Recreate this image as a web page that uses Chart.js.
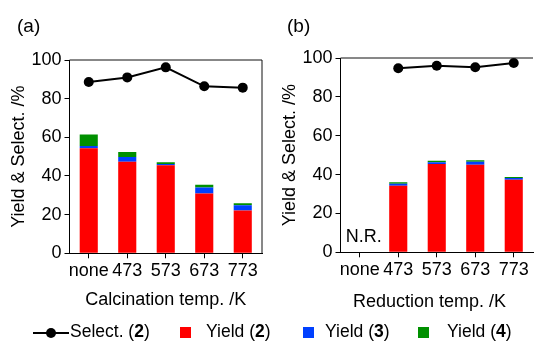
<!DOCTYPE html>
<html>
<head>
<meta charset="utf-8">
<script src="https://cdn.jsdelivr.net/npm/chart.js@4/dist/chart.umd.min.js"></script>
<style>
  html, body { margin: 0; padding: 0; background: #fff; }
  body { width: 534px; height: 341px; position: relative; overflow: hidden; font-family: 'Liberation Sans', Arial, sans-serif; color: #000; }
  canvas { position: absolute; top: 0; }
  .lbl { position: absolute; font-size: 19px; line-height: 19px; white-space: nowrap; }
  .leg { position: absolute; font-size: 17.5px; line-height: 17.5px; white-space: nowrap; top: 322.5px; }
  .sq { position: absolute; width: 11px; height: 11px; top: 327px; }
</style>
</head>
<body>
<canvas id="ca" width="267" height="341" style="left:0px"></canvas>
<canvas id="cb" width="267" height="341" style="left:271px"></canvas>
<div class="lbl" style="left:17px; top:16px;">(a)</div>
<div class="lbl" style="left:287px; top:16px;">(b)</div>
<div style="position:absolute; left:353px; top:291.5px; font-size:18px; line-height:18px; white-space:nowrap;">Reduction temp. /K</div>

<div style="position:absolute; left:33px; top:332px; width:36px; height:2px; background:#000;"></div>
<div style="position:absolute; left:45.5px; top:328px; width:10px; height:10px; border-radius:50%; background:#000;"></div>
<div class="leg" style="left:70px;">Select. (<b>2</b>)</div>
<div class="sq" style="left:180px; background:#ff0000;"></div>
<div class="leg" style="left:206px;">Yield (<b>2</b>)</div>
<div class="sq" style="left:303px; background:#0040ff;"></div>
<div class="leg" style="left:325px;">Yield (<b>3</b>)</div>
<div class="sq" style="left:418px; background:#009000;"></div>
<div class="leg" style="left:447px;">Yield (<b>4</b>)</div>

<script>
// ---- data ----
const categories = ['none', '473', '573', '673', '773'];

// (a) calcination temperature
const calcSelect2 = [88.6, 91.0, 96.2, 86.4, 85.7];
const calcYield2  = [54.3, 47.4, 45.5, 30.9, 22.2];
const calcYield3  = [1.2, 2.4, 0.7, 3.1, 2.6];
const calcYield4  = [5.9, 2.6, 0.9, 1.5, 1.1];

// (b) reduction temperature
const redSelect2 = [null, 94.7, 96.0, 95.2, 97.4];
const redYield2  = [0, 34.3, 45.5, 45.0, 37.4];
const redYield3  = [0, 1.0, 0.9, 1.6, 0.9];
const redYield4  = [0, 0.7, 0.7, 0.8, 0.5];
const redNotes   = ['N.R.', '', '', '', ''];

const yTicks = [0, 20, 40, 60, 80, 100];

Chart.defaults.font.family = "'Liberation Sans', Arial, sans-serif";
Chart.defaults.color = '#000';

const frame = {
  id: 'frame',
  afterDraw(chart, args, opts) {
    const a = chart.chartArea, ctx = chart.ctx;
    ctx.save();
    ctx.strokeStyle = '#111';
    ctx.lineWidth = 1;
    ctx.beginPath();
    ctx.moveTo(a.left, a.top);
    ctx.lineTo(a.right, a.top);
    if (opts.right) { ctx.lineTo(a.right, a.bottom); }
    ctx.stroke();
    ctx.restore();
  }
};

const notes = {
  id: 'notes',
  afterDatasetsDraw(chart, args, opts) {
    if (!opts.labels) return;
    const ctx = chart.ctx, xs = chart.scales.x, ys = chart.scales.y;
    ctx.save();
    ctx.font = "18px 'Liberation Sans', Arial, sans-serif";
    ctx.fillStyle = '#000';
    ctx.textAlign = 'center';
    ctx.textBaseline = 'middle';
    opts.labels.forEach((t, i) => {
      if (t) ctx.fillText(t, xs.getPixelForValue(i) + 4, ys.getPixelForValue(0) - 15);
    });
    ctx.restore();
  }
};

function makeChart(id, sel, y2, y3, y4, xTitle, pad, frameRight, noteLabels) {
  return new Chart(document.getElementById(id), {
    data: {
      labels: categories,
      datasets: [
        { type: 'line', label: 'Select. (2)', data: sel, stack: 'sel', borderColor: '#000', backgroundColor: '#000',
          borderWidth: 2, pointRadius: 5, pointHoverRadius: 5, pointBackgroundColor: '#000', pointBorderWidth: 0, order: 0 },
        { type: 'bar', label: 'Yield (2)', data: y2, stack: 'y', backgroundColor: '#ff0000', borderWidth: 0, order: 1 },
        { type: 'bar', label: 'Yield (3)', data: y3, stack: 'y', backgroundColor: '#0040ff', borderWidth: 0, order: 1 },
        { type: 'bar', label: 'Yield (4)', data: y4, stack: 'y', backgroundColor: '#009000', borderWidth: 0, order: 1 }
      ]
    },
    options: {
      responsive: false,
      animation: false,
      events: [],
      layout: { padding: pad },
      datasets: { bar: { categoryPercentage: 1, barPercentage: 0.47 } },
      plugins: { legend: { display: false }, tooltip: { enabled: false },
                 frame: { right: frameRight }, notes: { labels: noteLabels } },
      scales: {
        x: {
          type: 'category', stacked: true, offset: true,
          grid: { offset: false, drawOnChartArea: false, drawTicks: true, tickLength: 5, color: '#000' },
          border: { display: true, color: '#000', width: 1 },
          ticks: { font: { size: 18 }, padding: 2, maxRotation: 0, autoSkip: false },
          title: { display: !!xTitle, text: xTitle || '', font: { size: 18 }, padding: 0 },
          afterFit(s) { s.height = 58; }
        },
        y: {
          stacked: true, min: 0, max: 100,
          afterBuildTicks(s) { s.ticks = yTicks.map(v => ({ value: v })); },
          grid: { drawOnChartArea: false, drawTicks: true, tickLength: 5, color: '#000' },
          border: { display: true, color: '#000', width: 1 },
          ticks: { font: { size: 18 }, padding: 3 },
          title: { display: true, text: 'Yield & Select. /%', font: { size: 18 }, padding: 0 },
          afterFit(s) { s.width = 61.5; }
        }
      }
    },
    plugins: [frame, notes]
  });
}

makeChart('ca', calcSelect2, calcYield2, calcYield3, calcYield4, 'Calcination temp. /K',
  { left: 8, top: 60, right: 3.5, bottom: 29.7 }, true, null);
makeChart('cb', redSelect2, redYield2, redYield3, redYield4, null,
  { left: 8, top: 58, right: 3.5, bottom: 30.7 }, false, redNotes);
</script>
</body>
</html>
